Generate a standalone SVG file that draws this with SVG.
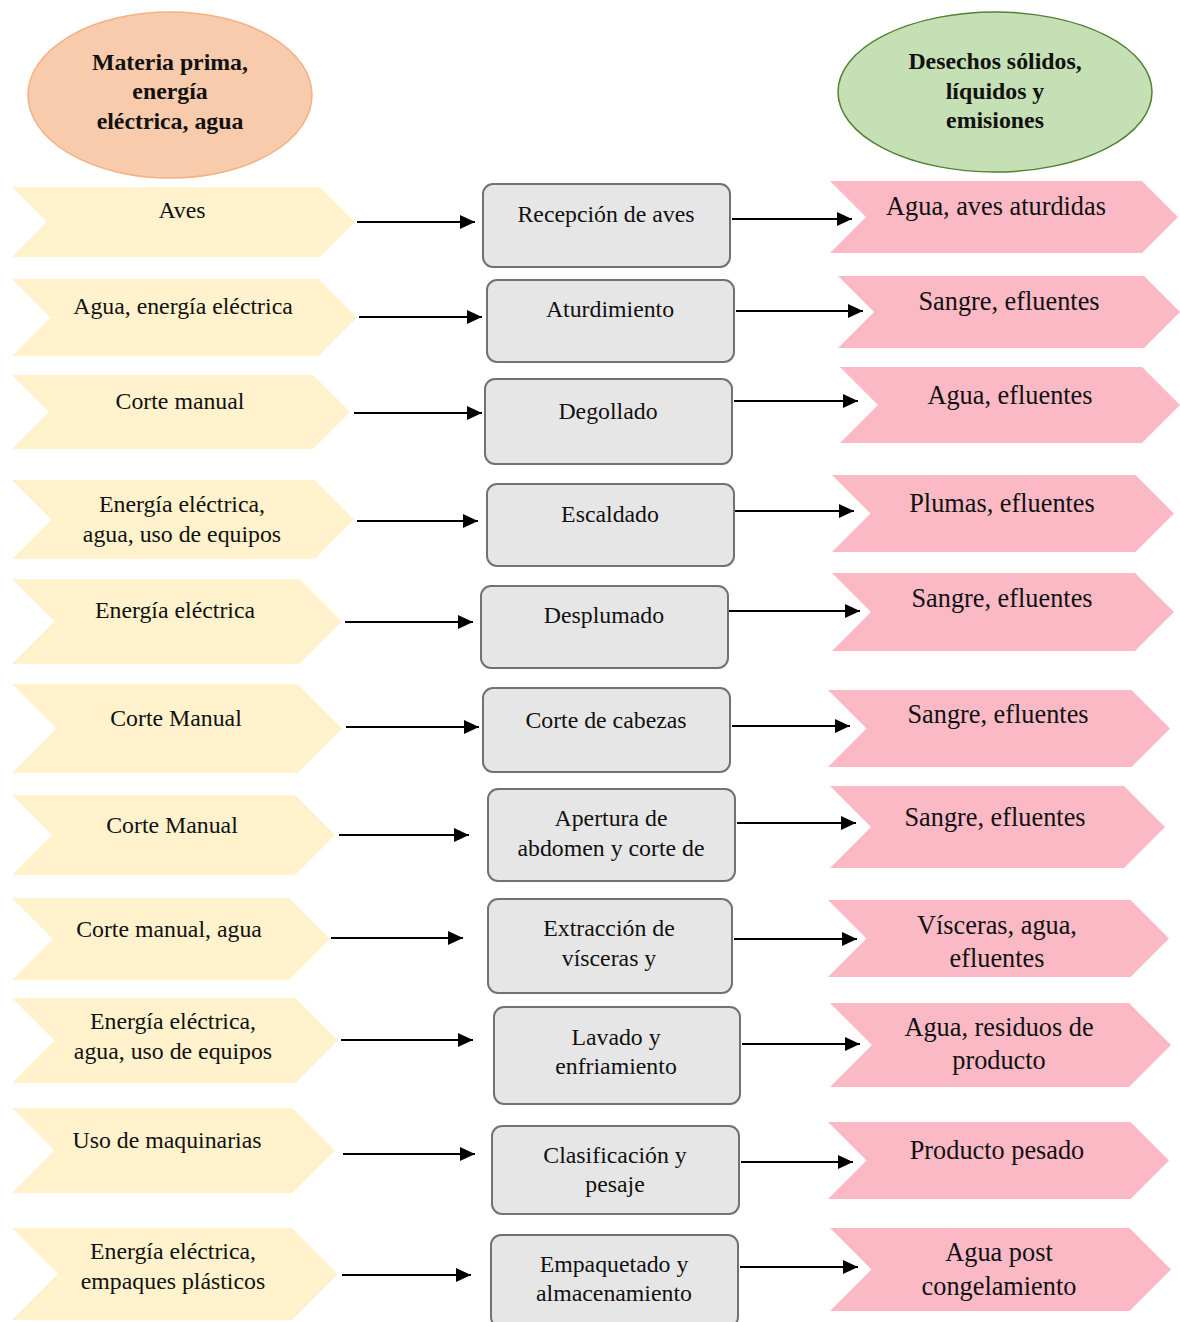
<svg xmlns="http://www.w3.org/2000/svg" width="1180" height="1322" viewBox="0 0 1180 1322">
<style>
.t{font-family:"Liberation Serif","Times New Roman",serif;font-size:23.8px;fill:#111;text-anchor:middle}
.tr{font-family:"Liberation Serif","Times New Roman",serif;font-size:26.3px;fill:#111;text-anchor:middle}
.tb{font-family:"Liberation Serif","Times New Roman",serif;font-size:23.8px;font-weight:bold;fill:#111;text-anchor:middle}
.in{fill:#fff2cc}
.out{fill:#fbb9c6}
.box{fill:#e7e6e6;stroke:#767171;stroke-width:2}
.c{stroke:#000;stroke-width:2;fill:none;marker-end:url(#ah)}
</style>
<defs>
<marker id="ah" markerUnits="userSpaceOnUse" markerWidth="16" markerHeight="14" refX="15" refY="7" orient="auto">
<path d="M0 0 L15 7 L0 14 Z" fill="#000"/>
</marker>
</defs>
<rect width="1180" height="1322" fill="#fff"/>
<g id="head-in">
<ellipse cx="170" cy="95" rx="142" ry="83" fill="#f8cbad" stroke="#f4b183" stroke-width="1.5"/>
<text class="tb" x="170" y="70">Materia prima,</text>
<text class="tb" x="170" y="99">energía</text>
<text class="tb" x="170" y="129">eléctrica, agua</text>
</g>
<g id="head-out">
<ellipse cx="995" cy="92" rx="157" ry="80" fill="#c5e0b4" stroke="#538135" stroke-width="1.5"/>
<text class="tb" x="995" y="69">Desechos sólidos,</text>
<text class="tb" x="995" y="99">líquidos y</text>
<text class="tb" x="995" y="128">emisiones</text>
</g>
<g id="inputs">
<g id="in1"><path class="in" d="M12 187 H320 L355 222 L320 257 H12 L47 222 Z"/><text class="t" x="182" y="218">Aves</text></g>
<g id="in2"><path class="in" d="M12 279 H318.5 L357 317.5 L318.5 356 H12 L50.5 317.5 Z"/><text class="t" x="183" y="314">Agua, energía eléctrica</text></g>
<g id="in3"><path class="in" d="M12 375 H313 L350 412 L313 449 H12 L49 412 Z"/><text class="t" x="180" y="409">Corte manual</text></g>
<g id="in4"><path class="in" d="M12 480 H314.5 L354 519.5 L314.5 559 H12 L51.5 519.5 Z"/><text class="t" x="182" y="512">Energía eléctrica,</text><text class="t" x="182" y="542">agua, uso de equipos</text></g>
<g id="in5"><path class="in" d="M12 579 H299.5 L342 621.5 L299.5 664 H12 L54.5 621.5 Z"/><text class="t" x="175" y="618">Energía eléctrica</text></g>
<g id="in6"><path class="in" d="M12 684 H297.5 L342 728.5 L297.5 773 H12 L56.5 728.5 Z"/><text class="t" x="176" y="726">Corte Manual</text></g>
<g id="in7"><path class="in" d="M12 795 H295 L335 835 L295 875 H12 L52 835 Z"/><text class="t" x="172" y="833">Corte Manual</text></g>
<g id="in8"><path class="in" d="M12 898 H289 L330 939 L289 980 H12 L53 939 Z"/><text class="t" x="169" y="937">Corte manual, agua</text></g>
<g id="in9"><path class="in" d="M12 998 H295.5 L338 1040.5 L295.5 1083 H12 L54.5 1040.5 Z"/><text class="t" x="173" y="1029">Energía eléctrica,</text><text class="t" x="173" y="1059">agua, uso de equipos</text></g>
<g id="in10"><path class="in" d="M12 1108 H292.5 L335 1150.5 L292.5 1193 H12 L54.5 1150.5 Z"/><text class="t" x="167" y="1148">Uso de maquinarias</text></g>
<g id="in11"><path class="in" d="M12 1228 H292 L338 1274 L292 1320 H12 L58 1274 Z"/><text class="t" x="173" y="1259">Energía eléctrica,</text><text class="t" x="173" y="1289">empaques plásticos</text></g>
</g>
<g id="steps">
<g id="s1"><rect class="box" x="483" y="184" width="247" height="83" rx="10"/><text class="t" x="606" y="222">Recepción de aves</text></g>
<g id="s2"><rect class="box" x="487" y="280" width="247" height="82" rx="10"/><text class="t" x="610" y="317">Aturdimiento</text></g>
<g id="s3"><rect class="box" x="485" y="379" width="247" height="85" rx="10"/><text class="t" x="608" y="419">Degollado</text></g>
<g id="s4"><rect class="box" x="487" y="484" width="247" height="82" rx="10"/><text class="t" x="610" y="522">Escaldado</text></g>
<g id="s5"><rect class="box" x="481" y="586" width="247" height="82" rx="10"/><text class="t" x="604" y="623">Desplumado</text></g>
<g id="s6"><rect class="box" x="483" y="688" width="247" height="84" rx="10"/><text class="t" x="606" y="728">Corte de cabezas</text></g>
<g id="s7"><rect class="box" x="488" y="789" width="247" height="92" rx="10"/><text class="t" x="611" y="826">Apertura de</text><text class="t" x="611" y="856">abdomen y corte de</text></g>
<g id="s8"><rect class="box" x="488" y="899" width="244" height="94" rx="10"/><text class="t" x="609" y="936">Extracción de</text><text class="t" x="609" y="966">vísceras y</text></g>
<g id="s9"><rect class="box" x="494" y="1007" width="246" height="97" rx="10"/><text class="t" x="616" y="1045">Lavado y</text><text class="t" x="616" y="1074">enfriamiento</text></g>
<g id="s10"><rect class="box" x="492" y="1126" width="247" height="88" rx="10"/><text class="t" x="615" y="1163">Clasificación y</text><text class="t" x="615" y="1192">pesaje</text></g>
<g id="s11"><rect class="box" x="491" y="1235" width="247" height="92" rx="10"/><text class="t" x="614" y="1272">Empaquetado y</text><text class="t" x="614" y="1301">almacenamiento</text></g>
</g>
<g id="outputs">
<g id="o1"><path class="out" d="M830 181 H1142 L1178 217 L1142 253 H830 L866 217 Z"/><text class="tr" x="996" y="215">Agua, aves aturdidas</text></g>
<g id="o2"><path class="out" d="M838 276 H1144 L1180 312 L1144 348 H838 L874 312 Z"/><text class="tr" x="1009" y="310">Sangre, efluentes</text></g>
<g id="o3"><path class="out" d="M840 367 H1142 L1180 405 L1142 443 H840 L878 405 Z"/><text class="tr" x="1010" y="404">Agua, efluentes</text></g>
<g id="o4"><path class="out" d="M832 475 H1135.5 L1174 513.5 L1135.5 552 H832 L870.5 513.5 Z"/><text class="tr" x="1002" y="512">Plumas, efluentes</text></g>
<g id="o5"><path class="out" d="M832 573 H1135 L1174 612 L1135 651 H832 L871 612 Z"/><text class="tr" x="1002" y="607">Sangre, efluentes</text></g>
<g id="o6"><path class="out" d="M828 690 H1131.5 L1170 728.5 L1131.5 767 H828 L866.5 728.5 Z"/><text class="tr" x="998" y="723">Sangre, efluentes</text></g>
<g id="o7"><path class="out" d="M830 786 H1124 L1165 827 L1124 868 H830 L871 827 Z"/><text class="tr" x="995" y="826">Sangre, efluentes</text></g>
<g id="o8"><path class="out" d="M828 900 H1130.5 L1169 938.5 L1130.5 977 H828 L866.5 938.5 Z"/><text class="tr" x="997" y="934">Vísceras, agua,</text><text class="tr" x="997" y="967">efluentes</text></g>
<g id="o9"><path class="out" d="M830 1003 H1129 L1171 1045 L1129 1087 H830 L872 1045 Z"/><text class="tr" x="999" y="1036">Agua, residuos de</text><text class="tr" x="999" y="1069">producto</text></g>
<g id="o10"><path class="out" d="M828 1122 H1130.5 L1169 1160.5 L1130.5 1199 H828 L866.5 1160.5 Z"/><text class="tr" x="997" y="1159">Producto pesado</text></g>
<g id="o11"><path class="out" d="M830 1228 H1129.5 L1171 1269.5 L1129.5 1311 H830 L871.5 1269.5 Z"/><text class="tr" x="999" y="1261">Agua post</text><text class="tr" x="999" y="1295">congelamiento</text></g>
</g>
<g id="connectors">
<line class="c" x1="357" y1="222" x2="475" y2="222"/>
<line class="c" x1="732" y1="219" x2="852" y2="219"/>
<line class="c" x1="359" y1="317" x2="482" y2="317"/>
<line class="c" x1="736" y1="311" x2="863" y2="311"/>
<line class="c" x1="354" y1="413" x2="482" y2="413"/>
<line class="c" x1="734" y1="401" x2="858" y2="401"/>
<line class="c" x1="357" y1="521" x2="478" y2="521"/>
<line class="c" x1="735" y1="511" x2="854" y2="511"/>
<line class="c" x1="345" y1="622" x2="473" y2="622"/>
<line class="c" x1="729" y1="611" x2="860" y2="611"/>
<line class="c" x1="346" y1="727" x2="479" y2="727"/>
<line class="c" x1="732" y1="726" x2="850" y2="726"/>
<line class="c" x1="339" y1="835" x2="469" y2="835"/>
<line class="c" x1="737" y1="823" x2="856" y2="823"/>
<line class="c" x1="331" y1="938" x2="463" y2="938"/>
<line class="c" x1="734" y1="939" x2="857" y2="939"/>
<line class="c" x1="341" y1="1040" x2="473" y2="1040"/>
<line class="c" x1="742" y1="1044" x2="860" y2="1044"/>
<line class="c" x1="343" y1="1154" x2="475" y2="1154"/>
<line class="c" x1="741" y1="1162" x2="853" y2="1162"/>
<line class="c" x1="342" y1="1275" x2="471" y2="1275"/>
<line class="c" x1="740" y1="1267" x2="858" y2="1267"/>
</g>
</svg>
